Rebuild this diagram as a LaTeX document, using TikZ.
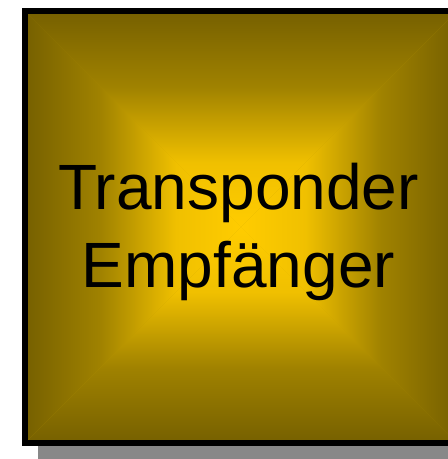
\documentclass[tikz,border=0pt]{standalone}
\usepackage{fontspec}
\setmainfont{Liberation Sans}
\definecolor{goldc}{RGB}{255,204,0}
\definecolor{g30}{RGB}{240,192,0}
\definecolor{g65}{RGB}{160,130,0}
\definecolor{edgec}{RGB}{118,96,0}
\definecolor{midc}{RGB}{190,155,0}
\definecolor{shadowc}{RGB}{136,136,136}
\pgfdeclareverticalshading{topTri}{100bp}{color(0bp)=(goldc); color(25bp)=(goldc); color(40bp)=(g30); color(57.5bp)=(g65); color(75bp)=(edgec); color(100bp)=(edgec)}
\pgfdeclareverticalshading{botTri}{100bp}{color(0bp)=(edgec); color(25bp)=(edgec); color(42.5bp)=(g65); color(60bp)=(g30); color(75bp)=(goldc); color(100bp)=(goldc)}
\pgfdeclarehorizontalshading{leftTri}{100bp}{color(0bp)=(edgec); color(25bp)=(edgec); color(42.5bp)=(g65); color(60bp)=(g30); color(75bp)=(goldc); color(100bp)=(goldc)}
\pgfdeclarehorizontalshading{rightTri}{100bp}{color(0bp)=(goldc); color(25bp)=(goldc); color(40bp)=(g30); color(57.5bp)=(g65); color(75bp)=(edgec); color(100bp)=(edgec)}
\tikzset{
  lbl/.style={anchor=base, inner sep=0pt, text=black, font=\fontsize{64}{76}\selectfont},
  boxborder/.style={draw=black, line width=6pt}
}
\begin{document}
\begin{tikzpicture}[x=1pt,y=1pt]
\useasboundingbox (0,0) rectangle (448,459);
\begin{scope}
\clip (0,0) rectangle (448,459);
% shadow
\fill[shadowc] (38,-10) rectangle (480,437);
% base fill
\fill[midc] (25,16) rectangle (456.5,447.5);
\coordinate (c) at (240.75,231.75);
\coordinate (tl) at (25,447.5);
\coordinate (tr) at (456.5,447.5);
\coordinate (bl) at (25,16);
\coordinate (br) at (456.5,16);
\shade[shading=topTri] (tl) -- (tr) -- (c) -- cycle;
\shade[shading=botTri] (bl) -- (br) -- (c) -- cycle;
\shade[shading=leftTri] (bl) -- (tl) -- (c) -- cycle;
\shade[shading=rightTri] (br) -- (tr) -- (c) -- cycle;
\draw[boxborder] (bl) rectangle (tr);
\end{scope}
\node[lbl] (t1) at (238.5,249) {Transponder};
\node[lbl] (t2) at (238.5,171) {Empfänger};
\end{tikzpicture}
\end{document}
